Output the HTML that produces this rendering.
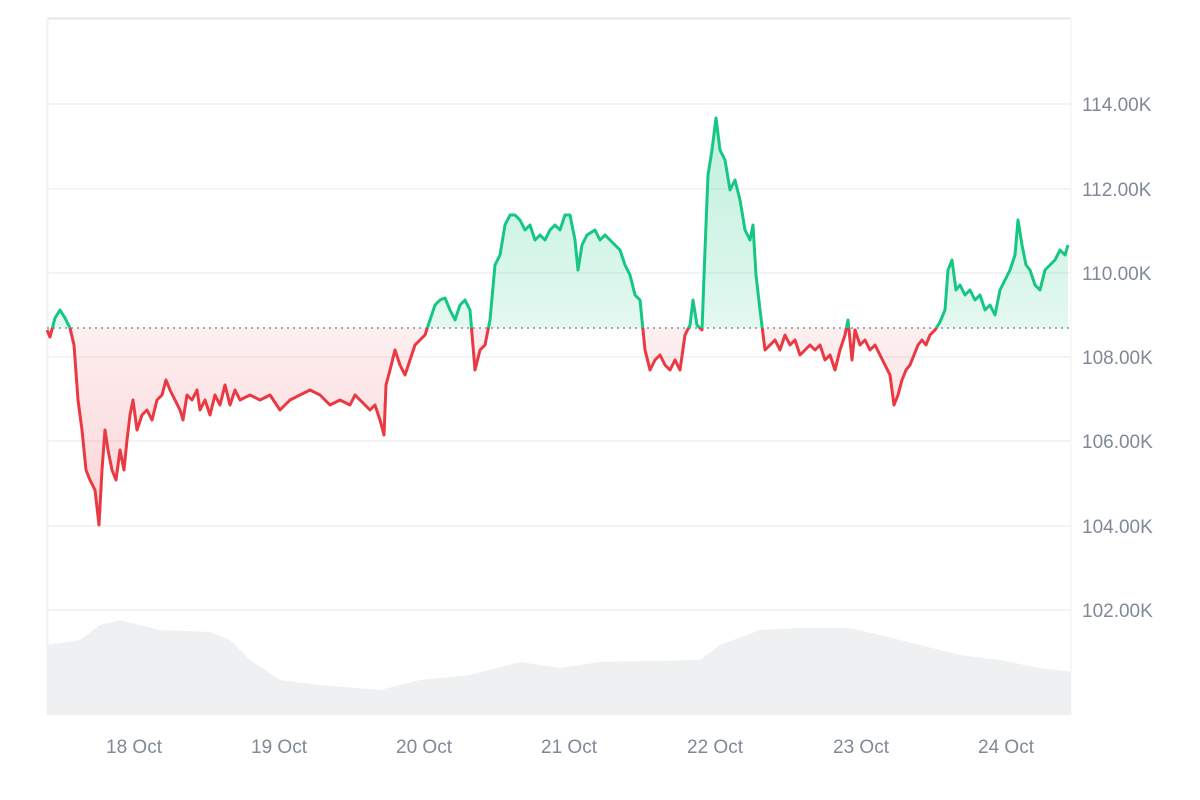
<!DOCTYPE html>
<html><head><meta charset="utf-8"><style>
html,body{margin:0;padding:0;background:#fff;}
svg{display:block;}
text{font-family:"Liberation Sans",sans-serif;font-size:19px;fill:#808a96;}
</style></head><body>
<svg width="1200" height="800" viewBox="0 0 1200 800">
<defs>
<clipPath id="up"><rect x="0" y="0" width="1200" height="328"/></clipPath>
<clipPath id="dn"><rect x="0" y="328" width="1200" height="472"/></clipPath>
<linearGradient id="gg" x1="0" y1="110" x2="0" y2="328" gradientUnits="userSpaceOnUse"><stop offset="0" stop-color="#16c784" stop-opacity="0.28"/><stop offset="1" stop-color="#16c784" stop-opacity="0.12"/></linearGradient>
<linearGradient id="rg" x1="0" y1="328" x2="0" y2="530" gradientUnits="userSpaceOnUse"><stop offset="0" stop-color="#ea3943" stop-opacity="0.08"/><stop offset="1" stop-color="#ea3943" stop-opacity="0.22"/></linearGradient>
<path id="pp" d="M47,330 L50,337 55,318 60,310 65,318 70,328 74,345 78,400 82,430 86,470 90,480 95,490 99,525 102,470 105,430 108,450 112,470 116,480 120,450 124,470 127,440 130,415 133,400 137,430 142,415 147,410 152,420 157,400 162,395 166,380 170,390 175,400 180,410 183,420 187,395 192,400 197,390 200,410 205,400 210,415 215,395 220,405 225,385 230,405 235,390 240,400 250,395 260,400 270,395 280,410 290,400 300,395 310,390 320,395 330,405 340,400 350,405 355,395 360,400 365,405 370,410 375,405 380,420 384,435 386,385 390,370 395,350 400,365 405,375 410,360 415,345 420,340 425,335 430,320 435,305 440,300 445,298 450,310 455,320 460,305 465,300 470,310 475,370 480,350 485,345 490,320 495,265 500,255 505,225 510,215 515,215 520,220 525,230 530,225 535,240 540,235 545,240 550,230 555,225 560,230 565,215 570,215 575,240 578,270 582,245 587,235 595,230 600,240 605,235 610,240 615,245 620,250 625,265 630,275 635,295 640,300 645,350 650,370 655,360 660,355 665,365 670,370 675,360 680,370 685,335 690,325 693,300 697,325 702,330 705,250 708,175 712,150 716,118 720,150 725,160 730,190 735,180 740,200 745,230 750,240 753,225 756,275 760,310 765,350 770,345 775,340 780,350 785,335 790,345 795,340 800,355 805,350 810,345 815,350 820,345 825,360 830,355 835,370 840,350 845,335 848,320 852,360 855,330 860,345 865,340 870,350 875,345 880,355 885,365 890,375 894,405 898,395 902,380 906,370 910,365 914,355 918,345 922,340 926,345 930,335 935,330 940,322 945,310 948,270 952,260 956,290 960,285 965,295 970,290 975,300 980,295 985,310 990,305 995,315 1000,290 1005,280 1010,270 1015,255 1018,220 1022,245 1026,265 1030,270 1035,285 1040,290 1045,270 1050,265 1055,260 1060,250 1065,255 1068,245"/>
<path id="fa" d="M47,330 L50,337 55,318 60,310 65,318 70,328 74,345 78,400 82,430 86,470 90,480 95,490 99,525 102,470 105,430 108,450 112,470 116,480 120,450 124,470 127,440 130,415 133,400 137,430 142,415 147,410 152,420 157,400 162,395 166,380 170,390 175,400 180,410 183,420 187,395 192,400 197,390 200,410 205,400 210,415 215,395 220,405 225,385 230,405 235,390 240,400 250,395 260,400 270,395 280,410 290,400 300,395 310,390 320,395 330,405 340,400 350,405 355,395 360,400 365,405 370,410 375,405 380,420 384,435 386,385 390,370 395,350 400,365 405,375 410,360 415,345 420,340 425,335 430,320 435,305 440,300 445,298 450,310 455,320 460,305 465,300 470,310 475,370 480,350 485,345 490,320 495,265 500,255 505,225 510,215 515,215 520,220 525,230 530,225 535,240 540,235 545,240 550,230 555,225 560,230 565,215 570,215 575,240 578,270 582,245 587,235 595,230 600,240 605,235 610,240 615,245 620,250 625,265 630,275 635,295 640,300 645,350 650,370 655,360 660,355 665,365 670,370 675,360 680,370 685,335 690,325 693,300 697,325 702,330 705,250 708,175 712,150 716,118 720,150 725,160 730,190 735,180 740,200 745,230 750,240 753,225 756,275 760,310 765,350 770,345 775,340 780,350 785,335 790,345 795,340 800,355 805,350 810,345 815,350 820,345 825,360 830,355 835,370 840,350 845,335 848,320 852,360 855,330 860,345 865,340 870,350 875,345 880,355 885,365 890,375 894,405 898,395 902,380 906,370 910,365 914,355 918,345 922,340 926,345 930,335 935,330 940,322 945,310 948,270 952,260 956,290 960,285 965,295 970,290 975,300 980,295 985,310 990,305 995,315 1000,290 1005,280 1010,270 1015,255 1018,220 1022,245 1026,265 1030,270 1035,285 1040,290 1045,270 1050,265 1055,260 1060,250 1065,255 1068,245 L1068,328 L47,328 Z"/>
</defs>
<line x1="47" y1="18.5" x2="1071" y2="18.5" stroke="#e4e6e8" stroke-width="2"/>
<line x1="47.5" y1="18" x2="47.5" y2="715" stroke="#f0f1f2" stroke-width="2"/>
<line x1="1071" y1="18" x2="1071" y2="715" stroke="#f0f1f2" stroke-width="1"/>
<g stroke="#eff1f3" stroke-width="1.5">
<line x1="47" y1="104" x2="1071" y2="104"/><line x1="47" y1="189" x2="1071" y2="189"/>
<line x1="47" y1="273" x2="1071" y2="273"/><line x1="47" y1="357" x2="1071" y2="357"/>
<line x1="47" y1="441" x2="1071" y2="441"/><line x1="47" y1="526" x2="1071" y2="526"/>
<line x1="47" y1="610" x2="1071" y2="610"/></g>
<path d="M47,645 L80,640 100,625 120,620 140,625 160,630 210,632 230,640 250,660 280,680 320,685 380,690 420,680 470,675 520,662 560,668 600,662 700,660 720,645 760,630 800,628 850,628 880,635 920,645 960,655 1000,660 1040,668 1071,672 L1071,715 47,715 Z" fill="#eef0f2"/>
<use href="#fa" fill="url(#gg)" clip-path="url(#up)"/>
<use href="#fa" fill="url(#rg)" clip-path="url(#dn)"/>
<line x1="47" y1="328" x2="1071" y2="328" stroke="#8a9099" stroke-width="1.5" stroke-dasharray="2,4"/>
<use href="#pp" fill="none" stroke="#16c784" stroke-width="3" stroke-linejoin="round" clip-path="url(#up)"/>
<use href="#pp" fill="none" stroke="#ea3943" stroke-width="3" stroke-linejoin="round" clip-path="url(#dn)"/>
<g>
<text x="1082" y="111">114.00K</text><text x="1082" y="196">112.00K</text>
<text x="1082" y="280">110.00K</text><text x="1082" y="364">108.00K</text>
<text x="1082" y="448">106.00K</text><text x="1082" y="533">104.00K</text>
<text x="1082" y="617">102.00K</text>
</g>
<g text-anchor="middle">
<text x="134" y="753">18 Oct</text><text x="279" y="753">19 Oct</text>
<text x="424" y="753">20 Oct</text><text x="569" y="753">21 Oct</text>
<text x="715" y="753">22 Oct</text><text x="861" y="753">23 Oct</text>
<text x="1006" y="753">24 Oct</text>
</g>
</svg>
</body></html>
